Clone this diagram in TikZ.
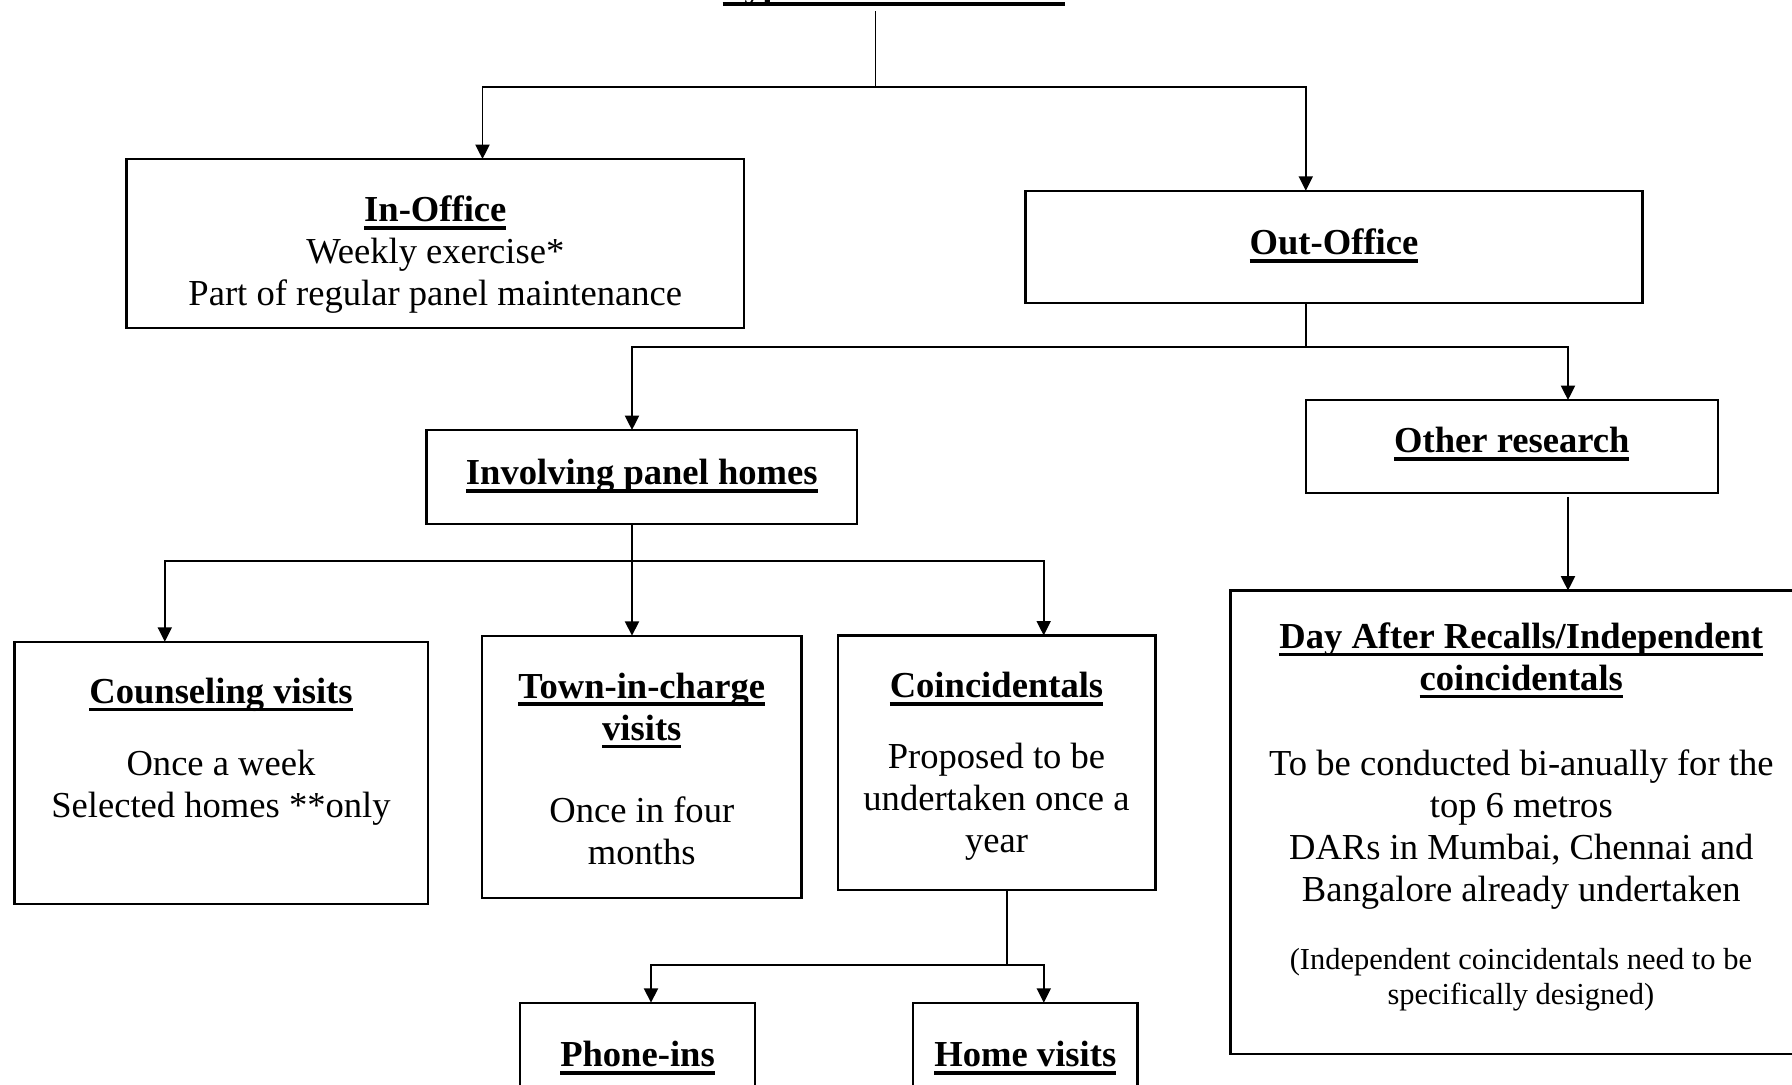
\documentclass[tikz,border=0pt]{standalone}
\usepackage{fontspec}
\setmainfont{Liberation Serif}
\usetikzlibrary{arrows.meta,calc,fit,positioning}
\newsavebox\ulbox
\newcommand{\ul}[1]{\sbox\ulbox{#1}\rlap{\rule[-2.6pt]{\wd\ulbox}{1.2pt}}\usebox\ulbox}
\newcommand{\hd}[1]{\textbf{\ul{#1}}}

\begin{document}
\begin{tikzpicture}[x=0.328pt, y=-0.328pt,
    box/.style={draw, line width=0.75pt, inner sep=0pt, outer sep=0pt},
    txt/.style={align=center, inner sep=0pt, anchor=base, font=\fontsize{12pt}{13.8pt}\selectfont},
    note/.style={txt, font=\fontsize{10pt}{11.8pt}\selectfont},
    lin/.style={line width=0.6pt},
    arr/.style={lin, -{Triangle[length=4.7pt, width=4.6pt]}}]
    \useasboundingbox (0,0) rectangle (1792,1085);

    % Title (base of a multi-line text = its last line)
    \node[txt] (title) at (894,-2) {\hd{Types of coincidentals}};
    \coordinate (jtop) at (875.5,86.7);

    % In-Office / Out-Office
    \node[box, fit={(126.5,159) (744,328)}] (inoffice) {};
    \node[txt] (inofftxt) at (435.3,306) {\hd{In-Office}\\Weekly exercise*\\Part of regular panel maintenance};
    \node[box, fit={(1025.4,190.7) (1642.6,303.3)}] (outoffice) {};
    \node[txt] (outofftxt) at (1334,255) {\hd{Out-Office}};
    \coordinate (jout) at (1305.8,347);

    % Involving panel homes / Other research
    \node[box, fit={(426.5,430) (857,524)}] (involving) {};
    \node[txt] (involvtxt) at (641.8,485) {\hd{Involving panel homes}};
    \node[box, fit={(1305.8,400) (1717.7,493)}] (otherres) {};
    \node[txt] (othertxt) at (1511.8,453) {\hd{Other research}};
    \coordinate (jinv) at (632,561);

    % Visits and coincidentals
    \node[box, fit={(14.4,641.7) (427.7,904)}] (counsel) {};
    \node[txt] (counseltxt) at (221,818) {\hd{Counseling visits}\\[10pt]Once a week\\Selected homes **only};
    \node[box, fit={(482.2,635.7) (801.4,897.7)}] (town) {};
    \node[txt] (towntxt) at (641.8,865) {\hd{Town-in-charge}\\\hd{visits}\\[13.3pt]Once in four\\months};
    \node[box, fit={(837.7,635.4) (1155.4,890)}] (coinc) {};
    \node[txt] (coinctxt) at (996.5,853) {\hd{Coincidentals}\\[9.5pt]Proposed to be\\undertaken once a\\year};
    \coordinate (jcoin) at (1006.7,965);

    % DAR
    \node[box, fit={(1230.5,590.5) (1812,1054.3)}] (dar) {};
    \node[txt] (dartxt) at (1521.3,901.7) {\hd{Day After Recalls/Independent}\\\hd{coincidentals}\\[14.1pt]To be conducted bi-anually for the\\top 6 metros\\DARs in Mumbai, Chennai and\\Bangalore already undertaken};
    \node[note] (darnote) at (1520.9,1005) {(Independent coincidentals need to be\\specifically designed)};

    % Phone-ins / Home visits
    \node[box, fit={(520,1002.7) (755,1110)}] (phone) {};
    \node[txt] (phonetxt) at (637.5,1066.7) {\hd{Phone-ins}};
    \node[box, fit={(913,1002.7) (1137.5,1110)}] (home) {};
    \node[txt] (hometxt) at (1025.3,1066.7) {\hd{Home visits}};

    % connectors
    \draw[lin] ([yshift=-1.5pt]title.south -| jtop) -- (jtop);
    \draw[arr] (jtop) -| ($(inoffice.north west)+(356,0)$);
    \draw[arr] (jtop) -| (outoffice.north -| jout);
    \draw[lin] (outoffice.south -| jout) -- (jout);
    \draw[arr] (jout) -| (involving.north -| jinv);
    \draw[arr] (jout) -| ($(otherres.north west)+(262.2,0)$);
    \draw[arr] ($(otherres.south west)+(262.2,4)$) coordinate (od) -- (od |- dar.north);
    \draw[lin] (involving.south -| jinv) -- (jinv);
    \draw[arr] (jinv) -| ($(counsel.north west)+(150.4,0)$);
    \draw[arr] (jinv) -- (jinv |- town.north);
    \draw[arr] (jinv) -| ($(coinc.north west)+(206,0)$);
    \draw[lin] (coinc.south -| jcoin) -- (jcoin);
    \draw[arr] (jcoin) -| ($(phone.north west)+(131,0)$);
    \draw[arr] (jcoin) -| ($(home.north west)+(130.8,0)$);
\end{tikzpicture}
\end{document}
